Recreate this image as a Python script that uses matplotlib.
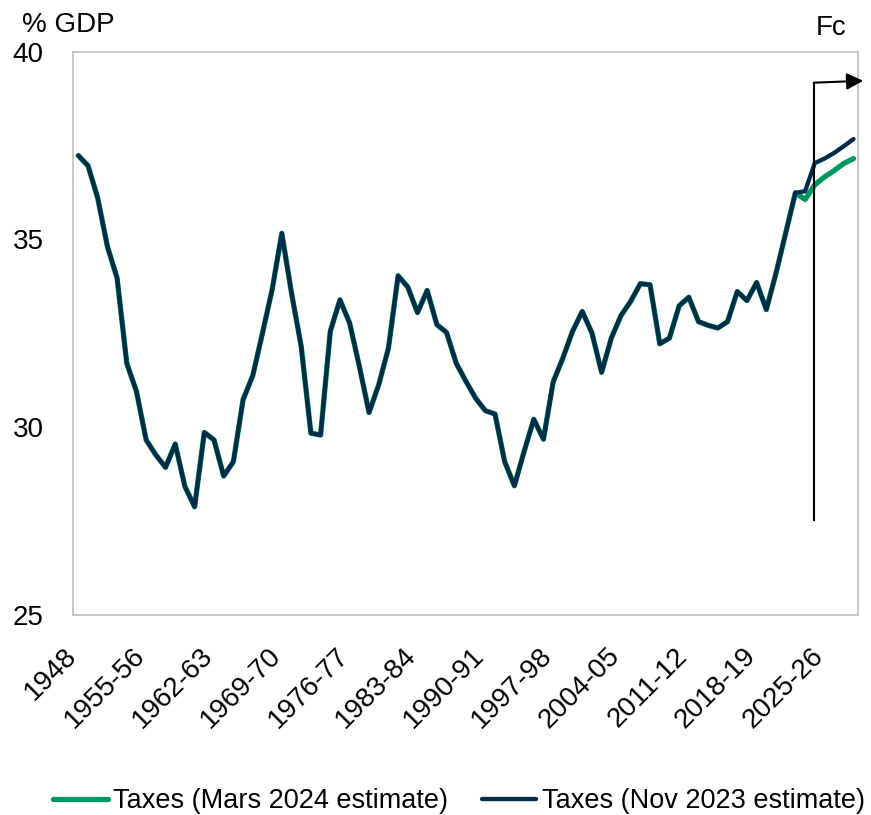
import matplotlib
matplotlib.use("Agg")
import matplotlib.pyplot as plt
import matplotlib.transforms as mtransforms

plt.rcParams['font.family'] = ['Liberation Sans', 'DejaVu Sans']

# ---- data ----
categories = ["1948"] + [f"{y}-{(y + 1) % 100:02d}" for y in range(1949, 2029)]

history = [37.23, 36.96, 36.10, 34.81, 33.97, 31.70, 30.95, 29.66, 29.26, 28.93,
           29.55, 28.42, 27.88, 29.86, 29.66, 28.70, 29.08, 30.73, 31.37, 32.50,
           33.66, 35.16, 33.57, 32.15, 29.84, 29.79, 32.55, 33.39, 32.77, 31.62,
           30.39, 31.13, 32.10, 34.03, 33.73, 33.05, 33.64, 32.73, 32.52, 31.70,
           31.22, 30.77, 30.44, 30.35, 29.08, 28.44, 29.35, 30.21, 29.68, 31.20,
           31.84, 32.55, 33.08, 32.51, 31.46, 32.37, 32.97, 33.35, 33.82, 33.79,
           32.22, 32.37, 33.23, 33.46, 32.81, 32.71, 32.64, 32.81, 33.61, 33.37,
           33.85, 33.13, 34.10, 35.17, 36.24]
fc_mar2024 = [36.06, 36.45, 36.66, 36.83, 37.02, 37.15]
fc_nov2023 = [36.28, 37.03, 37.15, 37.30, 37.48, 37.67]

taxes_mar2024 = history + fc_mar2024
taxes_nov2023 = history + fc_nov2023

series_labels = ["Taxes (Mars 2024 estimate)", "Taxes (Nov 2023 estimate)"]
yticks = [25, 30, 35, 40]
xtick_step = 7
forecast_start = "2024-25"

GREEN = "#00985F"
NAVY = "#002B49"
FRAME = "#BDBDBD"

fig = plt.figure(figsize=(8.71, 8.15), dpi=100)
ax = fig.add_axes([73 / 871, 1 - 615 / 815, (858 - 73) / 871, (615 - 51.5) / 815])

x = list(range(len(categories)))
l1, = ax.plot(x, taxes_mar2024, color=GREEN, lw=3.8, solid_capstyle='round',
              solid_joinstyle='round', label=series_labels[0], zorder=3)
l2, = ax.plot(x, taxes_nov2023, color=NAVY, lw=3.1, solid_capstyle='round',
              solid_joinstyle='round', label=series_labels[1], zorder=4)

ax.set_ylim(25, 40)
ax.set_xlim(-0.55, 80.46)
ax.set_yticks(yticks)
ax.set_yticklabels([str(v) for v in yticks])
ax.set_xticks(x[::xtick_step])
ax.set_xticklabels(categories[::xtick_step], rotation=45, ha='right')
ax.tick_params(axis='both', length=0, labelsize=20)
ax.tick_params(axis='y', pad=21)
ax.tick_params(axis='x', pad=20)
offset = mtransforms.ScaledTranslation(4 / 100, 0, fig.dpi_scale_trans)
for lab in ax.get_xticklabels():
    lab.set_transform(lab.get_transform() + offset)

for s in ax.spines.values():
    s.set_color(FRAME)
    s.set_linewidth(1.2)

# forecast marker
fx = categories.index(forecast_start) - 0.05
ax.plot([fx, fx], [27.53, 39.17], color='black', lw=1.5, clip_on=False, zorder=5)
ax.annotate("", xy=(81.0, 39.22), xytext=(fx - 0.05, 39.17),
            arrowprops=dict(arrowstyle="-|>,head_length=1.0,head_width=0.5",
                            color='black', lw=1.5, shrinkA=0, shrinkB=0),
            annotation_clip=False, zorder=5)

fig.text(831 / 871, 1 - 35 / 815, "Fc", fontsize=20, ha='center', va='baseline')
fig.text(22 / 871, 1 - 32.3 / 815, "% GDP", fontsize=20, ha='left', va='baseline')

fig.legend(handles=[l1, l2], labels=series_labels, loc='center',
           bbox_to_anchor=(459 / 871, 1 - 801 / 815), ncol=2, frameon=False,
           fontsize=19.5, handlelength=2.0, handletextpad=0.2, columnspacing=1.25)

fig.savefig("out.png", dpi=100)
